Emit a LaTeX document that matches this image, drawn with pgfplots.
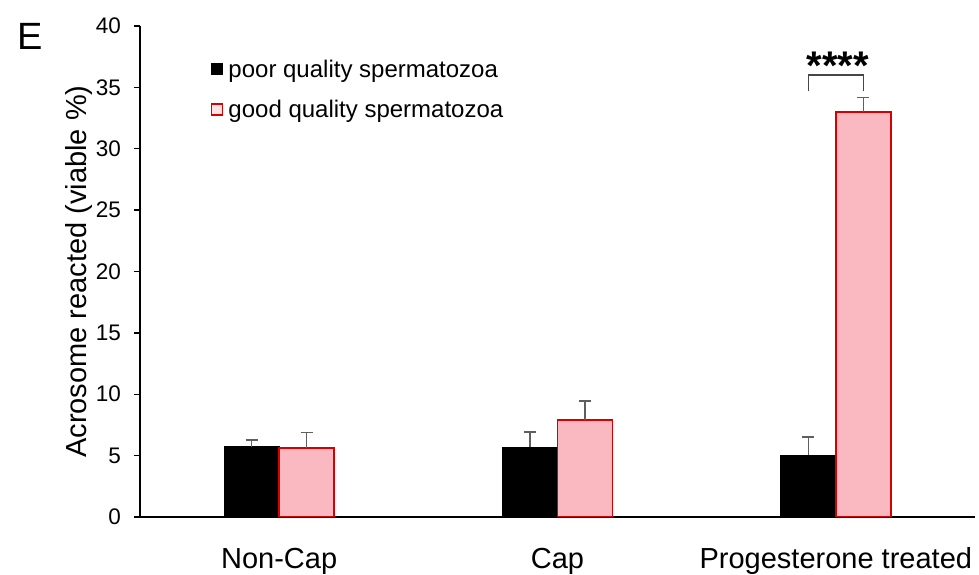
\documentclass[border=0pt]{standalone}
\usepackage{fontspec}
\setmainfont{Liberation Sans}
\usepackage{pgfplots}
\pgfplotsset{compat=1.18}
\usepackage{pgfplotstable}

\definecolor{goodpink}{RGB}{250,184,192}
\definecolor{goodred}{RGB}{215,0,0}
\definecolor{errgray}{RGB}{95,95,95}
\definecolor{brackgray}{RGB}{70,70,70}

% acrosome reaction, mean and upper error per condition
\pgfplotstableread{
x y err
0 5.73 0.54
1 5.68 1.24
2 5.02 1.50
}\poortable
\pgfplotstableread{
x y err
0 5.62 1.25
1 7.90 1.55
2 33.00 1.16
}\goodtable

\begin{document}
\begin{tikzpicture}
\begin{axis}[
  scale only axis, width=835pt, height=491pt,
  xmin=-0.5, xmax=2.5, ymin=0, ymax=40,
  ybar=0pt, bar width=55pt,
  axis lines=left,
  axis line style={-, line width=1.3pt, black},
  xtick={0,1,2},
  xticklabels={Non-Cap, Cap, Progesterone treated},
  x tick style={draw=none},
  x tick label style={font=\fontsize{29}{29}\selectfont, anchor=base, inner sep=0pt},
  xticklabel shift=45pt,
  ytick={0,5,...,40},
  tick align=outside,
  major tick length=6pt,
  y tick style={line width=1.3pt, black},
  y tick label style={font=\fontsize{22.5}{22.5}\selectfont, anchor=east, inner sep=0pt},
  yticklabel shift=13pt,
  /pgf/number format/assume math mode=true,
  ylabel={Acrosome reacted (viable \%)},
  ylabel style={font=\fontsize{29}{29}\selectfont, at={(axis description cs:-0.0563,0.5)},
    anchor=south, rotate=0, inner sep=0pt},
  legend cell align=left,
  legend style={draw=none, fill=none, at={(0.085,0.935)}, anchor=north west,
    font=\fontsize{24}{24}\selectfont, inner sep=0pt, row sep=17pt,
    /tikz/every odd column/.append style={column sep=3pt}},
  error bars/y dir=plus,
  error bars/y explicit,
  error bars/error bar style={errgray, line width=1.3pt},
  error bars/error mark options={rotate=90, mark size=6pt, errgray, line width=1.3pt},
]
\addplot[fill=black, draw=black, line width=1.2pt,
  legend image code/.code={\fill[black] (0pt,-5pt) rectangle (11pt,6pt);}]
  table[x=x, y=y, y error=err] {\poortable};
\addlegendentry{poor quality spermatozoa}
\addplot[fill=goodpink, draw=goodred, line width=1.4pt,
  legend image code/.code={\draw[goodred, fill=goodpink!40, line width=1.3pt] (0pt,-5.5pt) rectangle (11pt,5.5pt);}]
  table[x=x, y=y, y error=err] {\goodtable};
\addlegendentry{good quality spermatozoa}

% significance bracket between the progesterone-treated bars
\draw[brackgray, line width=1.3pt]
  ([xshift=-27.5pt]axis cs:2,34.73) -- ([xshift=-27.5pt]axis cs:2,36.0)
  -- ([xshift=27.5pt]axis cs:2,36.0) -- ([xshift=27.5pt]axis cs:2,34.73);
\node[anchor=base, inner sep=0pt, font=\fontsize{40}{40}\selectfont\bfseries]
  at ([xshift=2pt]axis cs:2,35.67) {****};
\end{axis}
\node[anchor=base west, inner sep=0pt, font=\fontsize{38}{38}\selectfont] at (-123pt,467pt) {E};
\path (-140pt,-53pt) rectangle (839pt,517pt);
\end{tikzpicture}
\end{document}
